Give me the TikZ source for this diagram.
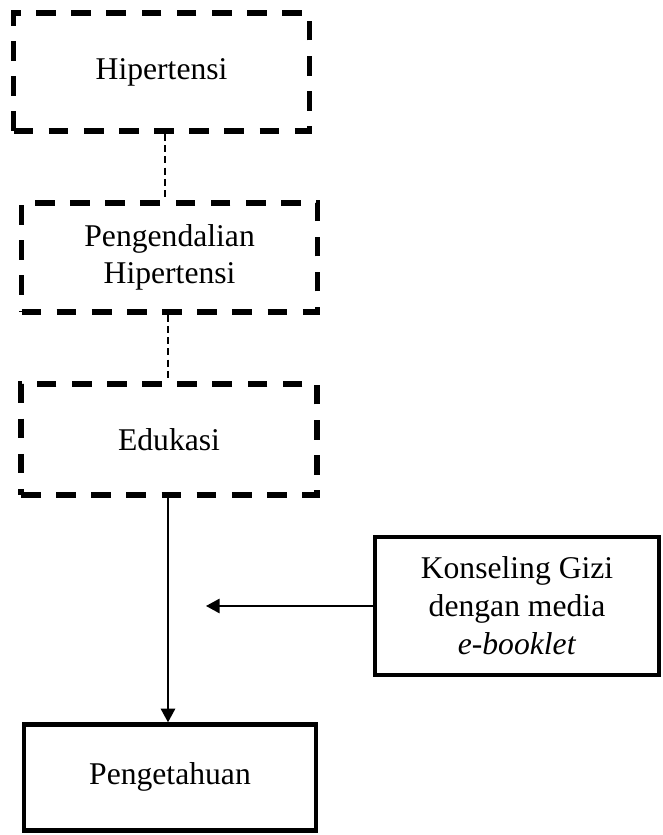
\documentclass[tikz,border=0pt]{standalone}
\usepackage{fontspec}
\setmainfont{Liberation Serif}
\usepackage{tikz}
\usetikzlibrary{arrows.meta,positioning}

\begin{document}
\begin{tikzpicture}[
    dashbox/.style={draw, line width=4pt, dash pattern=on 14pt off 11pt,
                    minimum width=7.4cm, minimum height=#1, align=center,
                    font=\fontsize{22.5}{26.5}\selectfont},
    solidbox/.style={draw, line width=3pt, minimum width=#1, align=center,
                     font=\fontsize{22.5}{27}\selectfont},
    thinlink/.style={line width=1.1pt, dash pattern=on 5pt off 3pt},
    flowarrow/.style={-{Triangle[length=3.4mm, width=3.6mm]}, line width=1.1pt}
]
\useasboundingbox (0,0) rectangle (16.575,20.875);

%% Dashed chain
\node[dashbox=2.95cm] (hiper) at (4.04, 19.075) {Hipertensi};
\node[dashbox=2.72cm] (kendali) at (4.24, 14.44) {Pengendalian\\Hipertensi};
\node[dashbox=2.78cm] (edukasi) at (4.225, 9.89) {Edukasi};

%% Outcome and intervention
\node[solidbox=7.3cm, minimum height=2.65cm] (tahu) at (4.25, 1.44) {Pengetahuan};
\node[solidbox=7.1cm, minimum height=3.45cm] (konseling) at (12.925, 5.725)
    {Konseling Gizi\\dengan media\\\textit{e-booklet}};
\coordinate (mid) at (5.15, 5.725);

%% Connectors
\draw[thinlink] (hiper.south -| 4.125,0) -- (4.125, 0 |- kendali.north);
\draw[thinlink] (kendali.south -| 4.2,0) -- (4.2, 0 |- edukasi.north);
\draw[flowarrow] (edukasi.south -| 4.2,0) -- (4.2, 0 |- tahu.north);
\draw[flowarrow] (konseling.west) -- (mid);

\end{tikzpicture}
\end{document}
